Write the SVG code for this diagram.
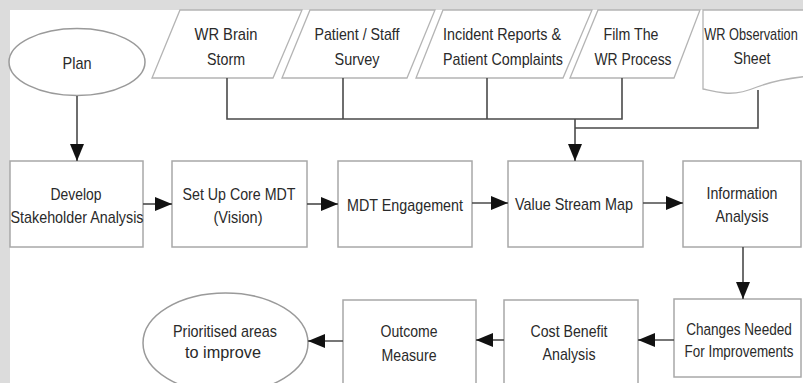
<svg xmlns="http://www.w3.org/2000/svg" width="803" height="383" viewBox="0 0 803 383">
  <style>
    .box { fill: #ffffff; stroke: #a8a8a8; stroke-width: 1.5; }
    .io { fill: #ffffff; stroke: #b4b4b4; stroke-width: 1.3; }
    .term { fill: #ffffff; stroke: #9a9a9a; stroke-width: 1.5; }
    .lbl { font-family: "Liberation Sans", Arial, sans-serif; font-size: 17px; fill: #2a2a2a; text-anchor: middle; }
    .wire { fill: none; stroke: #4a4a4a; stroke-width: 1.6; }
  </style>
  <defs>
    <marker id="arrow" markerUnits="userSpaceOnUse" markerWidth="18" markerHeight="14" refX="17" refY="7" orient="auto">
      <path d="M0,0 L17,7 L0,14 Z" fill="#111111"/>
    </marker>
  </defs>

  <!-- page backdrop -->
  <rect x="0" y="0" width="803" height="383" fill="#dcdcdc"/>
  <rect x="10" y="10" width="793" height="373" fill="#ffffff"/>

  <!-- start node -->
  <g id="plan">
    <ellipse class="term" cx="77" cy="62" rx="68" ry="33.5"/>
    <text class="lbl" x="77" y="69" textLength="29" lengthAdjust="spacingAndGlyphs">Plan</text>
  </g>

  <!-- inputs -->
  <g id="wr-brain-storm">
    <polygon class="io" points="180,10 302,10 273,78 152,78"/>
    <text class="lbl" x="226" y="40" textLength="63" lengthAdjust="spacingAndGlyphs">WR Brain</text>
    <text class="lbl" x="226" y="65" textLength="38" lengthAdjust="spacingAndGlyphs">Storm</text>
  </g>
  <g id="patient-staff-survey">
    <polygon class="io" points="310,10 435,10 407,78 282,78"/>
    <text class="lbl" x="357" y="40" textLength="85" lengthAdjust="spacingAndGlyphs">Patient / Staff</text>
    <text class="lbl" x="357" y="65" textLength="45" lengthAdjust="spacingAndGlyphs">Survey</text>
  </g>
  <g id="incident-reports">
    <polygon class="io" points="443,10 592,10 563,78 416,78"/>
    <text class="lbl" x="502" y="40" textLength="118" lengthAdjust="spacingAndGlyphs">Incident Reports &amp;</text>
    <text class="lbl" x="503" y="65" textLength="120" lengthAdjust="spacingAndGlyphs">Patient Complaints</text>
  </g>
  <g id="film-wr-process">
    <polygon class="io" points="598,10 700,10 674,78 570,78"/>
    <text class="lbl" x="631" y="40" textLength="55" lengthAdjust="spacingAndGlyphs">Film The</text>
    <text class="lbl" x="633" y="65" textLength="77" lengthAdjust="spacingAndGlyphs">WR Process</text>
  </g>
  <g id="wr-observation-sheet">
    <path class="io" d="M703,10 L810,10 L810,76 C790,78 770,82 757,87 C745,92 735,94 725,93 C715,92 708,90 703,89 Z"/>
    <!-- condensed by scaling so the label stays inside the sheet -->
    <text class="lbl" transform="translate(751,40) scale(0.75,1)" x="0" y="0">WR Observation</text>
    <text class="lbl" x="752" y="64" textLength="37" lengthAdjust="spacingAndGlyphs">Sheet</text>
  </g>

  <!-- main process row -->
  <g id="develop-stakeholder">
    <rect class="box" x="10" y="161" width="133" height="86"/>
    <text class="lbl" x="76" y="200" textLength="51" lengthAdjust="spacingAndGlyphs">Develop</text>
    <text class="lbl" x="77" y="223" textLength="133" lengthAdjust="spacingAndGlyphs">Stakeholder Analysis</text>
  </g>
  <g id="core-mdt">
    <rect class="box" x="172" y="161" width="135" height="86"/>
    <text class="lbl" x="239" y="200" textLength="113" lengthAdjust="spacingAndGlyphs">Set Up Core MDT</text>
    <text class="lbl" x="238" y="223" textLength="49" lengthAdjust="spacingAndGlyphs">(Vision)</text>
  </g>
  <g id="mdt-engagement">
    <rect class="box" x="338" y="161" width="134" height="86"/>
    <text class="lbl" x="405" y="211" textLength="116" lengthAdjust="spacingAndGlyphs">MDT Engagement</text>
  </g>
  <g id="value-stream-map">
    <rect class="box" x="508" y="161" width="135" height="86"/>
    <text class="lbl" x="574" y="210" textLength="118" lengthAdjust="spacingAndGlyphs">Value Stream Map</text>
  </g>
  <g id="information-analysis">
    <rect class="box" x="683" y="161" width="118" height="86"/>
    <text class="lbl" x="742" y="199" textLength="71" lengthAdjust="spacingAndGlyphs">Information</text>
    <text class="lbl" x="742" y="222" textLength="53" lengthAdjust="spacingAndGlyphs">Analysis</text>
  </g>

  <!-- return row -->
  <g id="changes-needed">
    <rect class="box" x="674" y="299" width="127" height="78"/>
    <text class="lbl" transform="translate(739,335) scale(0.8,1)" x="0" y="0">Changes Needed</text>
    <text class="lbl" transform="translate(739,357) scale(0.79,1)" x="0" y="0">For Improvements</text>
  </g>
  <g id="cost-benefit">
    <rect class="box" x="504" y="300" width="134" height="95"/>
    <text class="lbl" x="569" y="337" textLength="77" lengthAdjust="spacingAndGlyphs">Cost Benefit</text>
    <text class="lbl" x="569" y="360" textLength="53" lengthAdjust="spacingAndGlyphs">Analysis</text>
  </g>
  <g id="outcome-measure">
    <rect class="box" x="343" y="300" width="133" height="95"/>
    <text class="lbl" x="409" y="337" textLength="57" lengthAdjust="spacingAndGlyphs">Outcome</text>
    <text class="lbl" x="409" y="361" textLength="55" lengthAdjust="spacingAndGlyphs">Measure</text>
  </g>
  <g id="prioritised-areas">
    <ellipse class="term" cx="225.5" cy="343" rx="82.5" ry="50"/>
    <text class="lbl" x="225" y="337" textLength="104" lengthAdjust="spacingAndGlyphs">Prioritised areas</text>
    <text class="lbl" x="223" y="358" textLength="76" lengthAdjust="spacingAndGlyphs">to improve</text>
  </g>

  <!-- connectors -->
  <g id="connectors">
    <!-- inputs merging into the value stream map -->
    <path class="wire" d="M227,78 V119 H622 V78"/>
    <path class="wire" d="M343,78 V119"/>
    <path class="wire" d="M487,78 V119"/>
    <path class="wire" d="M758,90 V128 H575"/>
    <path class="wire" d="M575,119 V161" marker-end="url(#arrow)"/>

    <path class="wire" d="M77,96 V161" marker-end="url(#arrow)"/>
    <path class="wire" d="M143,204 H172" marker-end="url(#arrow)"/>
    <path class="wire" d="M307,204 H338" marker-end="url(#arrow)"/>
    <path class="wire" d="M472,203 H508" marker-end="url(#arrow)"/>
    <path class="wire" d="M643,203 H683" marker-end="url(#arrow)"/>
    <path class="wire" d="M743,247 V299" marker-end="url(#arrow)"/>
    <path class="wire" d="M674,340 H638" marker-end="url(#arrow)"/>
    <path class="wire" d="M504,340 H476" marker-end="url(#arrow)"/>
    <path class="wire" d="M343,341 H308" marker-end="url(#arrow)"/>
  </g>
</svg>
